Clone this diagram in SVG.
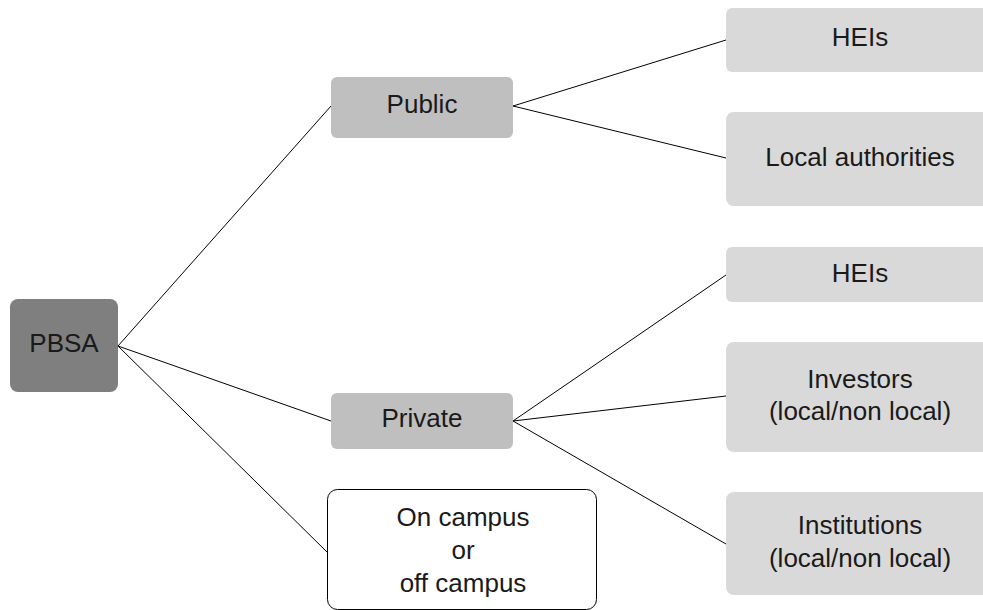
<svg xmlns="http://www.w3.org/2000/svg" width="983" height="610" viewBox="0 0 983 610">
<style>
text{font-family:"Liberation Sans",Arial,sans-serif;font-size:26px;fill:#1a1a1a;text-anchor:middle}
.root{fill:#7f7f7f}
.mid{fill:#bfbfbf}
.leaf{fill:#d9d9d9}
.plain{fill:#ffffff;stroke:#000000;stroke-width:1}
#connectors line{stroke:#000000;stroke-width:1}
</style>
<rect width="983" height="610" fill="#ffffff"/>
<g id="connectors">
<line x1="118" y1="346" x2="331" y2="106"/>
<line x1="118" y1="346" x2="331" y2="421"/>
<line x1="118" y1="346" x2="327" y2="552"/>
<line x1="513" y1="106" x2="726" y2="40"/>
<line x1="513" y1="106" x2="726" y2="158"/>
<line x1="513" y1="421" x2="726" y2="275"/>
<line x1="513" y1="421" x2="726" y2="396"/>
<line x1="513" y1="421" x2="726" y2="544"/>
</g>
<g id="pbsa"><rect class="root" x="10" y="299" width="108" height="93" rx="8"/><text x="64" y="352">PBSA</text></g>
<g id="public"><rect class="mid" x="331" y="77" width="182" height="61" rx="6"/><text x="422" y="113">Public</text></g>
<g id="private"><rect class="mid" x="331" y="393" width="182" height="56" rx="6"/><text x="422" y="427">Private</text></g>
<g id="campus"><rect class="plain" x="327.5" y="489.5" width="269" height="120" rx="10"/><text x="463" y="526">On campus</text><text x="463" y="559">or</text><text x="463" y="592">off campus</text></g>
<g id="heis-public"><rect class="leaf" x="726" y="8" width="270" height="64" rx="6"/><text x="860" y="46">HEIs</text></g>
<g id="local-authorities"><rect class="leaf" x="726" y="112" width="270" height="94" rx="8"/><text x="860" y="166">Local authorities</text></g>
<g id="heis-private"><rect class="leaf" x="726" y="247" width="270" height="55" rx="6"/><text x="860" y="282">HEIs</text></g>
<g id="investors"><rect class="leaf" x="726" y="342" width="270" height="110" rx="8"/><text x="860" y="388">Investors</text><text x="860" y="420">(local/non local)</text></g>
<g id="institutions"><rect class="leaf" x="726" y="492" width="270" height="103" rx="8"/><text x="860" y="534">Institutions</text><text x="860" y="567">(local/non local)</text></g>
</svg>
